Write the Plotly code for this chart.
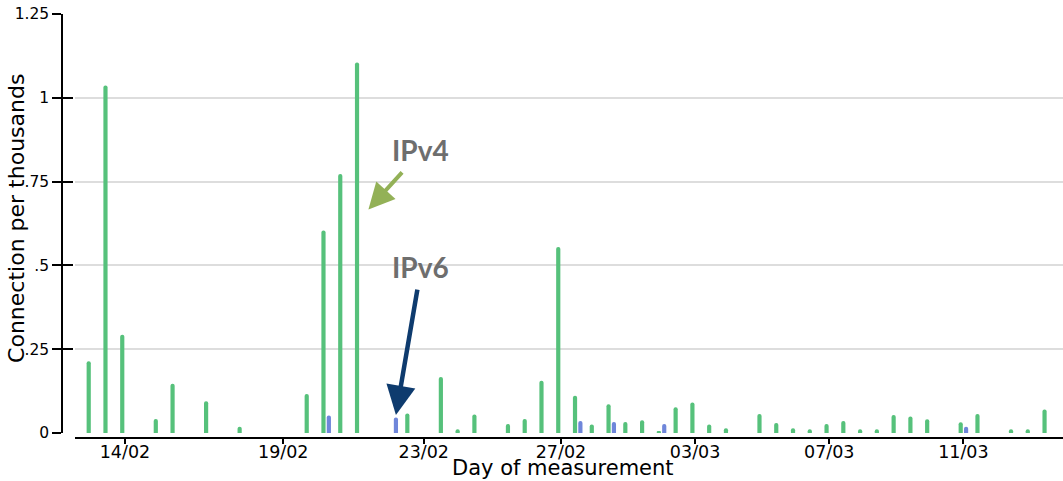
import plotly.graph_objects as go

# Measurement times, in days after 13/02 (two measurements a day)
ipv4_days = [0, 0.5, 1, 2, 2.5, 3.5, 4.5, 6.5, 7, 7.5, 8, 9.5, 10.5, 11, 11.5,
             12.5, 13, 13.5, 14, 14.5, 15, 15.5, 16, 16.5, 17, 17.5, 18, 18.5, 19,
             20, 20.5, 21, 21.5, 22, 22.5, 23, 23.5, 24, 24.5, 25, 26, 26.5, 27.5, 28, 28.5]
ipv4_vals = [0.214, 1.037, 0.293, 0.042, 0.147, 0.095, 0.019, 0.116, 0.604, 0.773, 1.105,
             0.058, 0.167, 0.011, 0.055, 0.027, 0.042, 0.156, 0.555, 0.111, 0.025, 0.086,
             0.033, 0.038, 0.005, 0.077, 0.091, 0.025, 0.014, 0.057, 0.030, 0.014, 0.011,
             0.027, 0.036, 0.011, 0.011, 0.054, 0.049, 0.041, 0.032, 0.057, 0.011, 0.011, 0.070]

ipv6_days = [7, 9, 14.5, 15.5, 17, 26]
ipv6_vals = [0.052, 0.046, 0.036, 0.033, 0.027, 0.019]

xtick_vals = [1, 5.72, 9.91, 14, 18, 22, 26]
xtick_text = ["14/02", "19/02", "23/02", "27/02", "03/03", "07/03", "11/03"]

ytick_vals = [0, 0.25, 0.5, 0.75, 1, 1.25]
ytick_text = ["0", ".25", ".5", ".75", "1", "1.25"]
grid_vals = [0.25, 0.5, 0.75, 1]

GREEN = "#56C17B"
BLUE = "#6F86DA"
FONT = "DejaVu Sans"

fig = go.Figure()
fig.add_trace(go.Bar(x=ipv4_days, y=ipv4_vals, width=0.125, offset=-0.1425,
                     marker=dict(color=GREEN, line=dict(width=0), cornerradius=2),
                     name="IPv4", showlegend=False))
fig.add_trace(go.Bar(x=ipv6_days, y=ipv6_vals, width=0.125, offset=0.0175,
                     marker=dict(color=BLUE, line=dict(width=0), cornerradius=2),
                     name="IPv6", showlegend=False))
# helper traces so that the overlay axes are drawn
fig.add_trace(go.Scatter(x=[None], y=[None], yaxis="y2", showlegend=False, hoverinfo="skip"))
fig.add_trace(go.Scatter(x=[None], y=[None], yaxis="y3", showlegend=False, hoverinfo="skip"))

fig.update_layout(
    width=1063, height=481,
    margin=dict(l=62, r=0, t=14, b=43),
    paper_bgcolor="white", plot_bgcolor="white",
    barmode="overlay",
    font=dict(family=FONT, color="black"),
    xaxis=dict(range=[-0.489, 28.97], domain=[13 / 1001, 1], anchor="free", position=0,
               showline=True, linecolor="black", linewidth=1.5,
               ticks="outside", ticklen=5, tickwidth=1.5, tickcolor="black",
               tickvals=xtick_vals, ticktext=xtick_text, tickfont=dict(size=17.5),
               ticklabelstandoff=-7,
               showgrid=False, zeroline=False),
    yaxis=dict(range=[0, 1.25], domain=[5 / 424, 1], anchor="free", position=0,
               showline=True, linecolor="black", linewidth=1.5,
               ticks="outside", ticklen=9, tickwidth=1.5, tickcolor="black",
               tickvals=ytick_vals, ticktext=ytick_text, tickfont=dict(size=15.5),
               showgrid=False, zeroline=False),
    yaxis2=dict(overlaying="y", range=[0, 1.25], anchor="free", position=0, side="left",
                ticks="inside", ticklen=10, tickwidth=1.5, tickcolor="black",
                tickvals=ytick_vals, showticklabels=False, showgrid=False,
                zeroline=False, showline=False),
    yaxis3=dict(overlaying="y", range=[0, 1.25], anchor="x", tickvals=grid_vals,
                showticklabels=False, ticks="", showgrid=True, gridcolor="#dddddd",
                gridwidth=1.5, zeroline=False, showline=False),
)

annotations = [
    dict(text="Day of measurement", xref="paper", yref="paper", x=0.5, y=-0.0708,
         xanchor="center", yanchor="middle", showarrow=False,
         font=dict(family=FONT, size=21, color="black")),
    dict(text="Connection per thousands", xref="paper", yref="paper", x=-0.045, y=0.519,
         xanchor="center", yanchor="middle", textangle=-90, showarrow=False,
         font=dict(family=FONT, size=22, color="black")),
    dict(text="<b>IPv4</b>", xref="x", yref="y", x=9.80, y=0.844, showarrow=False,
         xanchor="center", yanchor="middle",
         font=dict(family="Lato", size=28, color="#6e6e6e")),
    dict(text="<b>IPv6</b>", xref="x", yref="y", x=9.80, y=0.495, showarrow=False,
         xanchor="center", yanchor="middle",
         font=dict(family="Lato", size=28, color="#6e6e6e")),
    dict(text="", xref="x", yref="y", x=8.26, y=0.667, ax=35, ay=-38.6,
         showarrow=True, arrowhead=2, arrowsize=1.3, arrowwidth=4, arrowcolor="#93B157"),
    dict(text="", xref="x", yref="y", x=9.08, y=0.054, ax=21.7, ay=-126.7,
         showarrow=True, arrowhead=2, arrowsize=1.3, arrowwidth=4.5, arrowcolor="#0E3B6E"),
]
fig.update_layout(annotations=annotations)

fig.write_html("out.html")
